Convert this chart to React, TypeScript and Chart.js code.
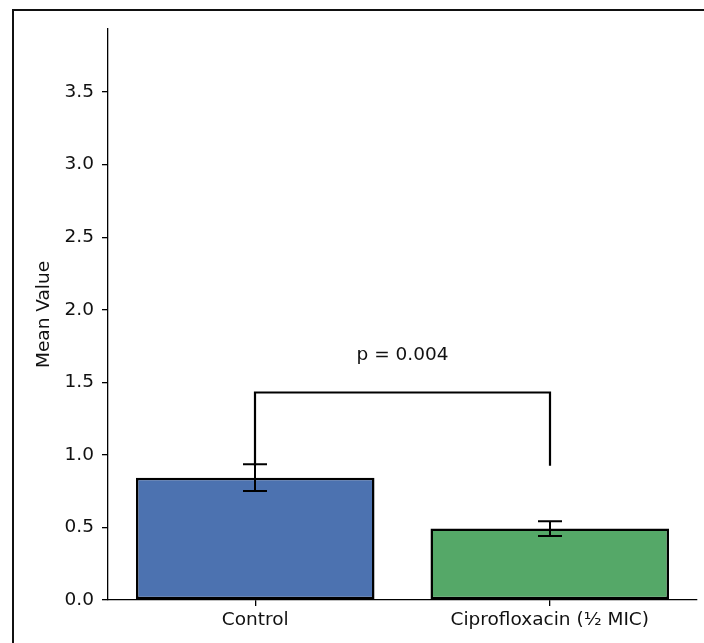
import React, { useEffect, useRef } from "react";
import { Chart, registerables } from "chart.js";

Chart.register(...registerables);

const categories = ["Control", "Ciprofloxacin (½ MIC)"];
const means = [0.843, 0.492];
const errors = [0.092, 0.051];
const barColors = ["#4c72b0", "#55a868"];
const yTicksStep = 0.5;
const yMax = 3.935;
const bracketTop = 1.43;
const bracketBottom = 0.925;
const pLabel = "p = 0.004";
const pLabelY = 1.69;
const yTitle = "Mean Value";

const FONT = "'DejaVu Sans', sans-serif";
const FS = 18.5;

const overlayPlugin = {
  id: "overlay",
  beforeDraw(chart: any) {
    const ctx = chart.ctx;
    ctx.save();
    ctx.fillStyle = "#fff";
    ctx.fillRect(0, 0, chart.width, chart.height);
    ctx.strokeStyle = "#111";
    ctx.lineWidth = 2;
    ctx.strokeRect(13, 10, chart.width + 50, chart.height + 50);
    ctx.restore();
  },
  afterDatasetsDraw(chart: any) {
    const ctx = chart.ctx;
    const x = chart.scales.x;
    const y = chart.scales.y;
    ctx.save();
    ctx.strokeStyle = "#000";
    ctx.lineWidth = 2;
    ctx.lineCap = "butt";
    // error bars
    means.forEach((m, i) => {
      const cx = Math.round(x.getPixelForValue(i));
      const top = y.getPixelForValue(m + errors[i]);
      const bot = y.getPixelForValue(m - errors[i]);
      ctx.beginPath();
      ctx.moveTo(cx, top);
      ctx.lineTo(cx, bot);
      ctx.moveTo(cx - 12, top);
      ctx.lineTo(cx + 12, top);
      ctx.moveTo(cx - 12, bot);
      ctx.lineTo(cx + 12, bot);
      ctx.stroke();
    });
    // bracket
    const x0 = Math.round(x.getPixelForValue(0));
    const x1 = Math.round(x.getPixelForValue(1));
    const yt = y.getPixelForValue(bracketTop);
    const yb = y.getPixelForValue(bracketBottom);
    ctx.lineWidth = 2.2;
    ctx.lineJoin = "miter";
    ctx.beginPath();
    ctx.moveTo(x0, yb);
    ctx.lineTo(x0, yt);
    ctx.lineTo(x1, yt);
    ctx.lineTo(x1, yb);
    ctx.stroke();
    // p label
    ctx.fillStyle = "#111";
    ctx.font = `${FS}px ${FONT}`;
    ctx.textAlign = "center";
    ctx.textBaseline = "middle";
    ctx.fillText(pLabel, (x0 + x1) / 2, y.getPixelForValue(pLabelY));
    ctx.restore();
  },
};

export default function App() {
  const ref = useRef<HTMLCanvasElement | null>(null);
  useEffect(() => {
    if (!ref.current) return;
    const chart = new Chart(ref.current, {
      type: "bar",
      data: {
        labels: categories,
        datasets: [
          {
            data: means,
            backgroundColor: barColors,
            borderColor: "#000",
            borderWidth: 2.5,
            borderSkipped: false,
            categoryPercentage: 0.81,
            barPercentage: 1,
          },
        ],
      },
      options: {
        animation: false,
        responsive: false,
        maintainAspectRatio: false,
        layout: { padding: { left: 0, top: 29, right: 7, bottom: 0 } },
        plugins: {
          legend: { display: false },
          tooltip: { enabled: false },
        },
        scales: {
          x: {
            offset: true,
            grid: {
              display: true,
              drawOnChartArea: false,
              drawTicks: true,
              tickLength: 6,
              color: "#000",
              lineWidth: 1.3,
              offset: false,
            },
            border: { display: true, color: "#000", width: 1.3 },
            ticks: {
              color: "#111",
              font: { family: FONT, size: FS },
              padding: 3,
              maxRotation: 0,
            },
            afterFit: (s: any) => {
              s.height = 43;
            },
          },
          y: {
            min: 0,
            max: yMax,
            grid: {
              display: true,
              drawOnChartArea: false,
              drawTicks: true,
              tickLength: 6,
              color: "#000",
              lineWidth: 1.3,
            },
            border: { display: true, color: "#000", width: 1.3 },
            ticks: {
              stepSize: yTicksStep,
              color: "#111",
              font: { family: FONT, size: FS },
              padding: 8,
              callback: (v: any) => Number(v).toFixed(1),
            },
            afterBuildTicks: (s: any) => {
              s.ticks = s.ticks.filter(
                (t: any) => Math.abs(t.value / yTicksStep - Math.round(t.value / yTicksStep)) < 1e-6
              );
            },
            title: {
              display: true,
              text: yTitle,
              color: "#111",
              font: { family: FONT, size: FS },
              padding: { top: 33, bottom: 0 },
            },
            afterFit: (s: any) => {
              s.width = 108;
            },
          },
        },
      },
      plugins: [overlayPlugin],
    });
    return () => chart.destroy();
  }, []);
  return (
    <div style={{ position: "fixed", left: 0, top: 0, width: 704, height: 643 }}>
      <canvas ref={ref} width={704} height={643} style={{ display: "block" }} />
    </div>
  );
}
